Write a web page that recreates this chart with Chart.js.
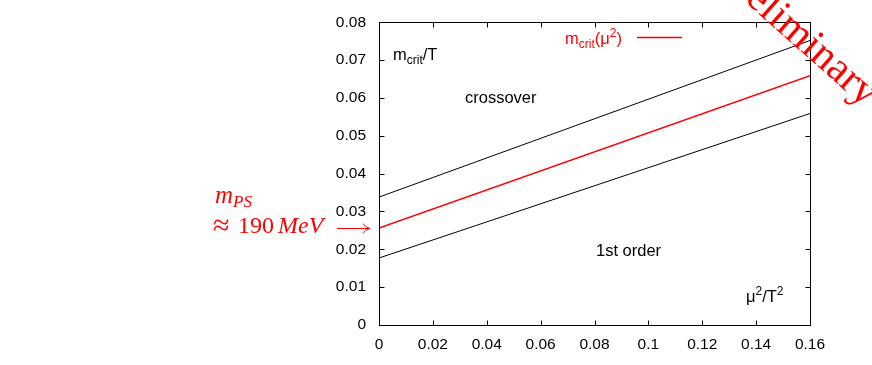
<!DOCTYPE html>
<html>
<head>
<meta charset="utf-8">
<script src="https://cdn.jsdelivr.net/npm/chart.js@4"></script>
<style>
  html, body { margin: 0; padding: 0; background: #fff; }
</style>
</head>
<body>
<canvas id="myChart" width="872" height="365"></canvas>
<script>
// mu^2/T^2 at both ends of each line
const muSq = [0, 0.16];
// m_crit/T boundaries
const upperLine = [0.0338, 0.0752];
const critLine = [0.0256, 0.0659];
const lowerLine = [0.0177, 0.0559];

const xTickLabels = ['0', '0.02', '0.04', '0.06', '0.08', '0.1', '0.12', '0.14', '0.16'];
const yTickLabels = ['0', '0.01', '0.02', '0.03', '0.04', '0.05', '0.06', '0.07', '0.08'];

const sans = '"Liberation Sans", Arial, Helvetica, sans-serif';
const serif = '"Liberation Serif", "Times New Roman", serif';
const big = '16.5px ' + sans, small = '12px ' + sans;

function toPoints(ys) {
    return muSq.map((x, i) => ({ x: x, y: ys[i] }));
}

// draws text pieces one after another (for sub/superscripts)
function rich(ctx, x, y, parts) {
    parts.forEach(p => {
        ctx.font = p.f;
        ctx.fillText(p.t, x, y + (p.dy || 0));
        x += ctx.measureText(p.t).width + (p.gap || 0);
    });
    return x;
}

const overlay = {
    id: 'overlay',
    afterDraw(chart) {
        const { ctx, chartArea: a, scales: { x, y } } = chart;
        ctx.save();

        // frame with inward ticks on all four sides
        ctx.strokeStyle = '#000';
        ctx.lineWidth = 1;
        const L = Math.round(a.left) + 0.5, R = Math.round(a.right) + 0.5;
        const T = Math.round(a.top) + 0.5, B = Math.round(a.bottom) + 0.5;
        ctx.strokeRect(L, T, R - L, B - T);
        ctx.beginPath();
        xTickLabels.forEach(v => {
            const px = Math.round(x.getPixelForValue(Number(v))) + 0.5;
            ctx.moveTo(px, B); ctx.lineTo(px, B - 5);
            ctx.moveTo(px, T); ctx.lineTo(px, T + 5);
        });
        yTickLabels.forEach(v => {
            const py = Math.round(y.getPixelForValue(Number(v))) + 0.5;
            ctx.moveTo(L, py); ctx.lineTo(L + 5, py);
            ctx.moveTo(R, py); ctx.lineTo(R - 5, py);
        });
        ctx.stroke();

        // labels inside the plot
        ctx.fillStyle = '#000';
        ctx.textBaseline = 'alphabetic';
        rich(ctx, 393, 60, [
            { t: 'm', f: big },
            { t: 'crit', f: small, dy: 4 },
            { t: '/T', f: big }
        ]);
        ctx.font = big;
        ctx.fillText('crossover', 465, 103);
        ctx.fillText('1st order', 596, 256);
        rich(ctx, 746, 302, [
            { t: 'μ', f: big },
            { t: '2', f: small, dy: -7 },
            { t: '/T', f: big },
            { t: '2', f: small, dy: -7 }
        ]);

        // legend
        ctx.fillStyle = '#ff0000';
        rich(ctx, 565, 44, [
            { t: 'm', f: big },
            { t: 'crit', f: small, dy: 4 },
            { t: '(μ', f: big },
            { t: '2', f: small, dy: -7 },
            { t: ')', f: big }
        ]);
        ctx.strokeStyle = '#ff0000';
        ctx.lineWidth = 1.5;
        ctx.beginPath();
        ctx.moveTo(637, 37.5); ctx.lineTo(682, 37.5);
        ctx.stroke();

        // m_PS annotation with arrow
        rich(ctx, 215, 203, [
            { t: 'm', f: 'italic 25px ' + serif },
            { t: 'PS', f: 'italic 17px ' + serif, dy: 4 }
        ]);
        ctx.font = '30px ' + serif;
        ctx.fillText('≈', 213, 235);
        ctx.font = '24px ' + serif;
        ctx.fillText('190', 238, 233);
        ctx.font = 'italic 24px ' + serif;
        ctx.fillText('MeV', 278, 233);
        const ay = Math.round(y.getPixelForValue(critLine[0])) + 0.5;
        ctx.lineWidth = 1;
        ctx.beginPath();
        ctx.moveTo(337, ay); ctx.lineTo(369, ay);
        ctx.moveTo(363, ay - 5); ctx.quadraticCurveTo(365, ay - 1, 370, ay);
        ctx.quadraticCurveTo(365, ay + 1, 363, ay + 5);
        ctx.stroke();

        // Preliminary stamp
        ctx.translate(716, -24);
        ctx.rotate(41.6 * Math.PI / 180);
        ctx.font = '42px ' + serif;
        ctx.fillText('Preliminary', 0, 0);

        ctx.restore();
    }
};

const ctx = document.getElementById('myChart').getContext('2d');
const myChart = new Chart(ctx, {
    type: 'scatter',
    data: {
        datasets: [
            { data: toPoints(upperLine), borderColor: '#000', borderWidth: 1 },
            { data: toPoints(critLine), borderColor: '#ff0000', borderWidth: 1.5 },
            { data: toPoints(lowerLine), borderColor: '#000', borderWidth: 1 }
        ].map(d => Object.assign(d, { showLine: true, pointRadius: 0, fill: false }))
    },
    options: {
        responsive: false,
        animation: false,
        layout: { padding: { top: 21, right: 62, left: 0, bottom: 0 } },
        plugins: { legend: { display: false }, tooltip: { enabled: false } },
        scales: {
            x: {
                type: 'linear',
                min: 0,
                max: 0.16,
                afterBuildTicks: s => { s.ticks = xTickLabels.map(v => ({ value: Number(v) })); },
                afterFit: s => { s.height = 40; },
                grid: { display: false, drawTicks: false },
                border: { display: false },
                ticks: {
                    padding: 10,
                    color: '#000',
                    font: { family: sans, size: 15.5 },
                    maxRotation: 0,
                    callback: (v, i) => xTickLabels[i]
                }
            },
            y: {
                min: 0,
                max: 0.08,
                afterBuildTicks: s => { s.ticks = yTickLabels.map(v => ({ value: Number(v) })); },
                afterFit: s => { s.width = 379; },
                grid: { display: false, drawTicks: false },
                border: { display: false },
                ticks: {
                    padding: 13,
                    color: '#000',
                    font: { family: sans, size: 15.5 },
                    callback: (v, i) => yTickLabels[i]
                }
            }
        }
    },
    plugins: [overlay]
});
</script>
</body>
</html>
